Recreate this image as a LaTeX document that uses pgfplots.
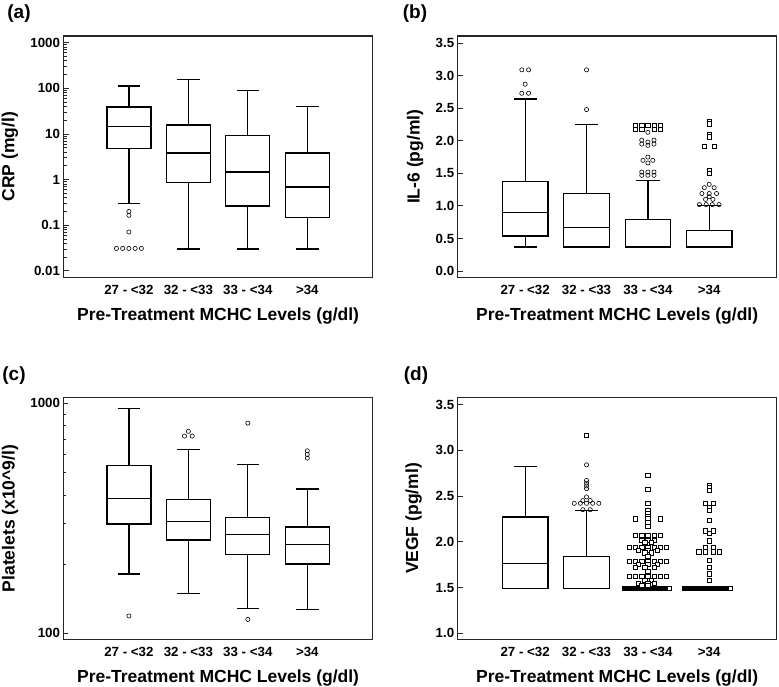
\documentclass[border=0pt]{standalone}
\usepackage{fontspec}
\setmainfont{Liberation Sans}
\usepackage{pgfplots}
\pgfplotsset{compat=1.18}

\pgfplotsset{
  panel/.style={
    scale only axis, anchor=south west, height=241.5pt,
    xmin=-1.1, xmax=4.1,
    xtick={0,1,2,3},
    xticklabels={\textbf{27 - <32}, \textbf{32 - <33}, \textbf{33 - <34}, \textbf{>34}},
    tick style={black!85, line width=0.8pt},
    xtick style={draw=none},
    xticklabel style={yshift=-4pt},
    tick align=inside, ytick pos=left,
    major tick length=5pt, minor tick length=3pt,
    axis line style={line width=1.3pt, black!85},
    ticklabel style={font=\fontsize{13.3}{15}\selectfont\bfseries},
    xlabel={Pre-Treatment MCHC Levels (g/dl)},
    xlabel style={at={(axis description cs:0.5,0)}, anchor=center, yshift=-38.5pt, font=\fontsize{17.5}{20}\selectfont\bfseries},
    ylabel style={at={(axis description cs:0,0.5)}, anchor=center, font=\fontsize{17.5}{20}\selectfont\bfseries},
    unbounded coords=jump,
  },
  bx/.style={black, line width=1.3pt, line join=miter},
  circ/.style={only marks, mark=o, mark size=2.1pt, mark options={line width=0.6pt, black, fill=white}},
  sq/.style={only marks, mark=square*, mark size=2.1pt, mark options={line width=0.6pt, black, fill=white}},
}

% box plot from its five numbers: #1 position, #2 lower whisker, #3 lower quartile,
% #4 median, #5 upper quartile, #6 upper whisker
\newcommand{\bp}[6]{%
  \pgfmathsetmacro\bL{#1-0.37}\pgfmathsetmacro\bR{#1+0.37}%
  \pgfmathsetmacro\wL{#1-0.19}\pgfmathsetmacro\wR{#1+0.19}%
  \edef\doplot{\noexpand\addplot[bx] coordinates {(\bL,#3) (\bR,#3) (\bR,#5) (\bL,#5) (\bL,#3) (\bR,#3) (\bR,nan)
    (\bL,#4) (\bR,#4) (\bR,nan)
    (#1,#5) (#1,#6) (#1,nan) (\wL,#6) (\wR,#6) (\wR,nan)
    (#1,#3) (#1,#2) (#1,nan) (\wL,#2) (\wR,#2)};}%
  \doplot
}

\begin{document}
\begin{tikzpicture}
\path[use as bounding box] (0pt,0pt) rectangle (779pt,687pt);

\node[font=\fontsize{19}{22}\selectfont\bfseries] at (19pt,673pt) {(a)};
\node[font=\fontsize{19}{22}\selectfont\bfseries] at (415pt,673pt) {(b)};
\node[font=\fontsize{19}{22}\selectfont\bfseries] at (14pt,311.5pt) {(c)};
\node[font=\fontsize{19}{22}\selectfont\bfseries] at (416pt,311.5pt) {(d)};

% ---------------- (a) CRP ----------------
\begin{axis}[panel, at={(63.5pt,409.5pt)}, width=309.2pt,
  ymode=log, ymin=0.00715, ymax=1400,
  ytick={0.01,0.1,1,10,100,1000},
  yticklabels={\textbf{0.01},\textbf{0.1},\textbf{1},\textbf{10},\textbf{100},\textbf{1000}},
  minor ytick={0.02,0.03,0.04,0.05,0.06,0.07,0.08,0.09,0.2,0.3,0.4,0.5,0.6,0.7,0.8,0.9,2,3,4,5,6,7,8,9,20,30,40,50,60,70,80,90,200,300,400,500,600,700,800,900},
  ylabel={CRP (mg/l)}, ylabel style={yshift=53.5pt}]
\bp{0}{0.30}{4.85}{14.7}{39}{113}
\bp{1}{0.03}{0.86}{3.84}{15.7}{157}
\bp{2}{0.03}{0.265}{1.47}{9.2}{90}
\bp{3}{0.03}{0.148}{0.69}{3.84}{40}
\addplot[circ] coordinates {(0,0.20) (0,0.165) (0,0.071) (-0.21,0.031) (-0.105,0.031) (0,0.031) (0.105,0.031) (0.21,0.031)};
\end{axis}

% ---------------- (b) IL-6 ----------------
\begin{axis}[panel, at={(457.7pt,409.5pt)}, width=319pt,
  ymin=-0.1, ymax=3.61,
  ytick={0,0.5,1,1.5,2,2.5,3,3.5},
  yticklabels={\textbf{0.0},\textbf{0.5},\textbf{1.0},\textbf{1.5},\textbf{2.0},\textbf{2.5},\textbf{3.0},\textbf{3.5}},
  ylabel={IL-6 (pg/ml)}, ylabel style={yshift=42.5pt}]
\bp{0}{0.368}{0.537}{0.894}{1.37}{2.64}
\bp{1}{0.368}{0.368}{0.67}{1.19}{2.25}
\bp{2}{0.368}{0.368}{0.368}{0.79}{1.395}
\bp{3}{0.368}{0.368}{0.368}{0.623}{1.01}
\addplot[circ] coordinates {(-0.055,3.09) (0.055,3.09) (0,2.87) (-0.055,2.73) (0.055,2.73)
  (1,3.09) (1,2.48)
  (2,2.13) (1.9,2.01) (2.1,2.01) (2,1.98) (1.9,1.95) (2.1,1.95) (2,1.93)
  (2,1.75) (1.92,1.70) (2.08,1.70) (2,1.66)
  (1.9,1.52) (2,1.52) (2.1,1.52) (1.9,1.47) (2,1.47) (2.1,1.47)
  (3,1.33) (2.92,1.28) (3.08,1.28) (2.88,1.19) (3,1.19) (3.12,1.19) (3,1.14) (2.94,1.10) (3.06,1.10)
  (2.84,1.02) (2.95,1.02) (3.05,1.02) (3.16,1.02)};
\addplot[sq] coordinates {(1.8,2.24) (1.9,2.24) (2,2.24) (2.1,2.24) (2.2,2.24)
  (1.8,2.18) (1.9,2.18) (2.1,2.18) (2.2,2.18)
  (3,2.30) (3,2.26) (3,2.10) (3,2.06) (2.92,1.92) (3.08,1.92) (3,1.54) (3,1.50)};
\end{axis}

% ---------------- (c) Platelets ----------------
\begin{axis}[panel, at={(63.5pt,47.7pt)}, width=309.2pt,
  ymode=log, ymin=94.2, ymax=1058,
  ytick={100,1000}, yticklabels={\textbf{100},\textbf{1000}},
  minor ytick={200,300,400,500,600,700,800,900},
  ylabel={Platelets (x10\^{}9/l)}, ylabel style={yshift=53.5pt}]
\bp{0}{181}{299}{386}{537}{951}
\bp{1}{149}{254.5}{307}{381}{630}
\bp{2}{128.5}{219.6}{268.4}{320}{544}
\bp{3}{127}{200}{242.7}{290}{424.5}
\addplot[circ] coordinates {(0,119) (0.935,721) (1.065,721) (1,756) (2,821) (2,115) (3,622) (3,600) (3,578)};
\end{axis}

% ---------------- (d) VEGF ----------------
\begin{axis}[panel, at={(457.7pt,47.7pt)}, width=319pt,
  ymin=0.934, ymax=3.573,
  ytick={1,1.5,2,2.5,3,3.5},
  yticklabels={\textbf{1.0},\textbf{1.5},\textbf{2.0},\textbf{2.5},\textbf{3.0},\textbf{3.5}},
  ylabel={VEGF (pg/ml)}, ylabel style={yshift=44pt}]
\bp{0}{1.49}{1.49}{1.76}{2.27}{2.82}
\bp{1}{1.49}{1.49}{1.49}{1.836}{2.34}
\addplot[circ] coordinates {(1,2.84) (1,2.67) (1,2.64) (1,2.61) (1,2.58) (1,2.49) (0.94,2.45) (1.06,2.45)
  (0.8,2.42) (0.9,2.42) (1,2.42) (1.1,2.42) (1.2,2.42) (0.94,2.35) (1.06,2.35)};
\addplot[black, line width=4.6pt, line cap=butt] coordinates {(1.585,1.49) (2.37,1.49)};
\addplot[black, line width=4.6pt, line cap=butt] coordinates {(2.56,1.49) (3.37,1.49)};
\addplot[sq] coordinates {(1,3.16)
  (2,2.73) (2,2.57) (2,2.42) (2,2.34) (2,2.31) (2,2.28) (1.8,2.25) (2,2.25) (2.2,2.25) (2,2.21) (2,2.17)
  (1.8,2.07) (1.9,2.07) (2,2.07) (2.1,2.07) (2.2,2.07) (1.9,2.02) (2,2.02) (2.1,2.02) (1.95,1.99) (2.05,1.99)
  (1.7,1.94) (1.8,1.94) (1.9,1.94) (2,1.94) (2.1,1.94) (2.2,1.94) (2.3,1.94) (1.85,1.91) (2,1.91) (2.15,1.91)
  (1.95,1.88) (2.05,1.88) (2,1.84)
  (1.7,1.79) (1.8,1.79) (1.9,1.79) (2,1.79) (2.1,1.79) (2.2,1.79) (2.3,1.79) (1.85,1.75) (2,1.75) (2.15,1.75)
  (1.8,1.72) (1.95,1.72) (2.1,1.72) (2,1.68)
  (1.7,1.62) (1.8,1.62) (1.9,1.62) (2,1.62) (2.1,1.62) (2.2,1.62) (2.3,1.62) (1.95,1.58) (2.05,1.58)
  (1.85,1.55) (2,1.55) (2.1,1.55) (1.9,1.52) (2,1.52) (2.35,1.49)
  (3,2.62) (3,2.59) (3,2.56) (2.94,2.42) (3.06,2.42) (3,2.38) (3,2.34) (3,2.23)
  (2.94,2.12) (3.06,2.12) (3,2.09) (3,2.01) (2.94,1.94) (3.06,1.94)
  (2.83,1.89) (2.94,1.89) (3.06,1.89) (3.17,1.89) (3,1.80) (3,1.72) (3,1.65) (3,1.58) (3.35,1.49)};
\end{axis}
\end{tikzpicture}
\end{document}
